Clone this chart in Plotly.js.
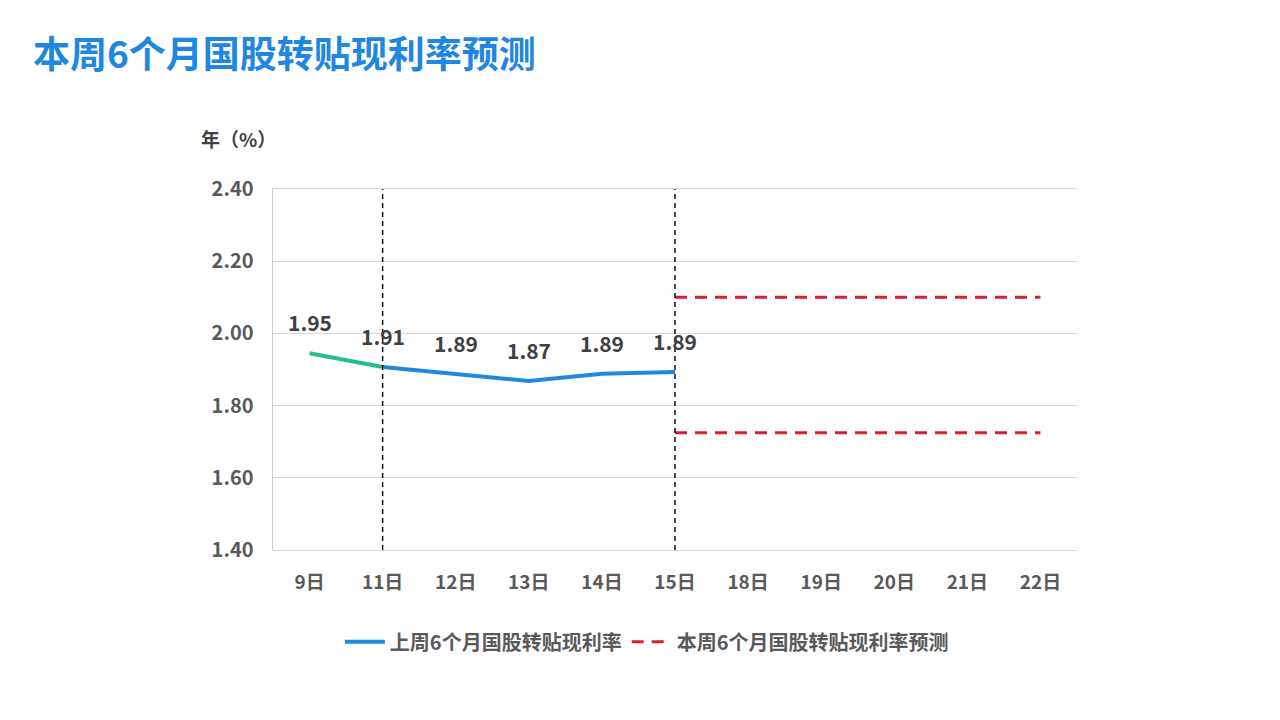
<!DOCTYPE html>
<html>
<head>
<meta charset="utf-8">
<script src="https://cdn.plot.ly/plotly-3.0.1.min.js"></script>
<style>html,body{margin:0;padding:0;background:#fff;}#chart{width:1280px;height:720px;}</style>
</head>
<body>
<div id="chart"></div>
<script>
const categories = ['9日','11日','12日','13日','14日','15日','18日','19日','20日','21日','22日'];
const lastWeekX = ['11日','12日','13日','14日','15日'];
const lastWeekY = [1.907, 1.888, 1.868, 1.888, 1.893];
const earlyX = ['9日','11日'];
const earlyY = [1.945, 1.907];
const labelX = ['9日','11日','12日','13日','14日','15日'];
const labelY = [1.945, 1.907, 1.888, 1.868, 1.888, 1.893];
const labelText = ['1.95','1.91','1.89','1.87','1.89','1.89'];
const forecastX = ['15日','18日','19日','20日','21日','22日'];
const forecastUpper = [2.10, 2.10, 2.10, 2.10, 2.10, 2.10];
const forecastLower = [1.725, 1.725, 1.725, 1.725, 1.725, 1.725];
const markerDays = ['11日','15日'];
const yTicks = [1.40, 1.60, 1.80, 2.00, 2.20, 2.40];
const yTickText = ['1.40','1.60','1.80','2.00','2.20','2.40'];

const FONT = '"Noto Sans CJK SC", "Noto Sans", sans-serif';
const BLUE = '#2188df';
const GREEN = '#25bf8c';
const RED = '#d5202d';

const traces = [
  {x: earlyX, y: earlyY, type: 'scatter', mode: 'lines', line: {color: GREEN, width: 4}, showlegend: false, hoverinfo: 'skip'},
  {x: lastWeekX, y: lastWeekY, type: 'scatter', mode: 'lines', name: '上周6个月国股转贴现利率', line: {color: BLUE, width: 4}},
  {x: forecastX, y: forecastUpper, type: 'scatter', mode: 'lines', name: '本周6个月国股转贴现利率预测', line: {color: RED, width: 3, dash: '12px,8px'}},
  {x: forecastX, y: forecastLower, type: 'scatter', mode: 'lines', showlegend: false, line: {color: RED, width: 3, dash: '12px,8px'}}
];

const annotations = labelX.map((x, i) => ({
  x: x, y: labelY[i], xref: 'x', yref: 'y', text: labelText[i], showarrow: false,
  yshift: 31, font: {family: FONT, size: 21, color: '#404040', weight: 'bold'}
}));
annotations.push({
  x: (238 - 273) / 804, y: (550 - 138) / 361, xref: 'paper', yref: 'paper', xanchor: 'center', yanchor: 'middle',
  text: '年（%）', showarrow: false,
  font: {family: FONT, size: 19, color: '#404040', weight: 'bold'}
});

const shapes = markerDays.map(d => ({
  type: 'line', xref: 'x', yref: 'paper', x0: d, x1: d, y0: 0, y1: 1,
  line: {color: '#111111', width: 1.5, dash: '5px,4px'}
}));

const layout = {
  width: 1280, height: 720,
  margin: {l: 273, r: 203, t: 189, b: 170},
  paper_bgcolor: '#ffffff', plot_bgcolor: '#ffffff',
  title: {text: '本周6个月国股转贴现利率预测', x: 33/1280, xanchor: 'left', y: 1 - 55/720, yanchor: 'middle',
          font: {family: FONT, size: 37, color: '#1f87df', weight: 'bold'}},
  xaxis: {type: 'category', categoryorder: 'array', categoryarray: categories, range: [-0.5, 10.5],
          showgrid: false, zeroline: false, showline: true, mirror: true, linecolor: '#d9d9d9', linewidth: 1.2, ticks: '',
          ticklabelstandoff: 15,
          tickfont: {family: FONT, size: 19, color: '#595959', weight: 'bold'}, fixedrange: true},
  yaxis: {range: [1.40, 2.40], tickvals: yTicks, ticktext: yTickText, showgrid: true, gridcolor: '#d9d9d9', gridwidth: 1.2,
          zeroline: false, showline: true, linecolor: '#cfcfcf', linewidth: 1.5, ticks: '', ticklen: 0,
          ticklabelstandoff: 14,
          tickfont: {family: FONT, size: 20, color: '#595959', weight: 'bold'}, fixedrange: true},
  legend: {orientation: 'h', x: 0.465, xanchor: 'center', y: -0.2, yanchor: 'top',
           font: {family: FONT, size: 20, color: '#595959', weight: 'bold'}, itemwidth: 40},
  showlegend: true,
  annotations: annotations,
  shapes: shapes
};

Plotly.newPlot('chart', traces, layout, {displayModeBar: false, staticPlot: true});
</script>
</body>
</html>
